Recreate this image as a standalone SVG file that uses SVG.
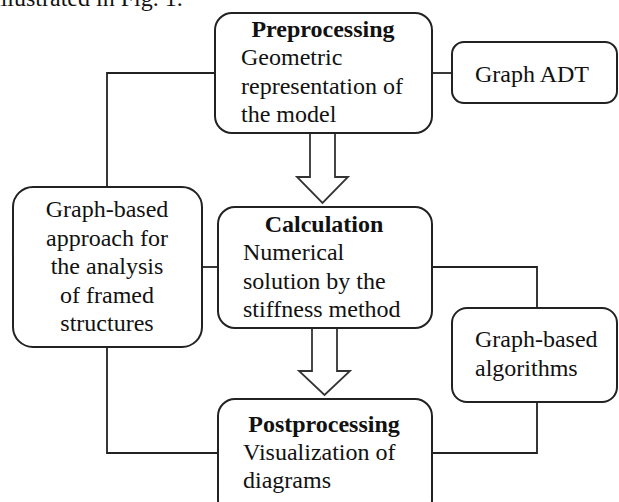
<svg xmlns="http://www.w3.org/2000/svg" width="619" height="502" viewBox="0 0 619 502">
<style>
.box{fill:#fff;stroke:#222;stroke-width:2}
.ln{fill:none;stroke:#222;stroke-width:1.8}
.arr{fill:#fff;stroke:#333;stroke-width:1.8;stroke-linejoin:miter}
text{font-family:"Liberation Serif","Times New Roman",serif;font-size:24px;fill:#111}
.b{font-weight:bold}
.c{text-anchor:middle}
</style>
<rect width="619" height="502" fill="#fff"/>
<text x="-6" y="6">illustrated in Fig. 1.</text>
<g id="connectors">
<path class="ln" d="M215,73 H107 V187"/>
<path class="ln" d="M432,73 H452"/>
<path class="ln" d="M202,267 H218"/>
<path class="ln" d="M432,267 H537 V308"/>
<path class="ln" d="M107,347 V453 H218"/>
<path class="ln" d="M537,402 V453 H432"/>
<polygon class="arr" points="310,133 335,133 335,177 348,177 322.5,203 297,177 310,177"/>
<polygon class="arr" points="312,328 337,328 337,371 350,371 324.5,395 299,371 312,371"/>
</g>
<g id="preprocessing">
<rect class="box" x="215" y="13" width="217" height="120" rx="17"/>
<text class="b c" x="323" y="37">Preprocessing</text>
<text x="241" y="65">Geometric</text>
<text x="241" y="94">representation of</text>
<text x="241" y="122">the model</text>
</g>
<g id="graphadt">
<rect class="box" x="452" y="42" width="165" height="61" rx="12"/>
<text x="475" y="82">Graph ADT</text>
</g>
<g id="approach">
<rect class="box" x="13" y="187" width="189" height="160" rx="20"/>
<text class="c" x="107" y="217">Graph-based</text>
<text class="c" x="107" y="245.5">approach for</text>
<text class="c" x="107" y="274">the analysis</text>
<text class="c" x="107" y="302.5">of framed</text>
<text class="c" x="107" y="331">structures</text>
</g>
<g id="calculation">
<rect class="box" x="218" y="207" width="214" height="121" rx="17"/>
<text class="b c" x="324" y="232">Calculation</text>
<text x="243" y="260">Numerical</text>
<text x="243" y="288.5">solution by the</text>
<text x="243" y="317">stiffness method</text>
</g>
<g id="algorithms">
<rect class="box" x="452" y="308" width="165" height="94" rx="15"/>
<text x="475" y="347">Graph-based</text>
<text x="475" y="376">algorithms</text>
</g>
<g id="postprocessing">
<rect class="box" x="218" y="399" width="214" height="118" rx="17"/>
<text class="b c" x="324" y="432">Postprocessing</text>
<text x="243" y="460">Visualization of</text>
<text x="243" y="488">diagrams</text>
</g>
</svg>
